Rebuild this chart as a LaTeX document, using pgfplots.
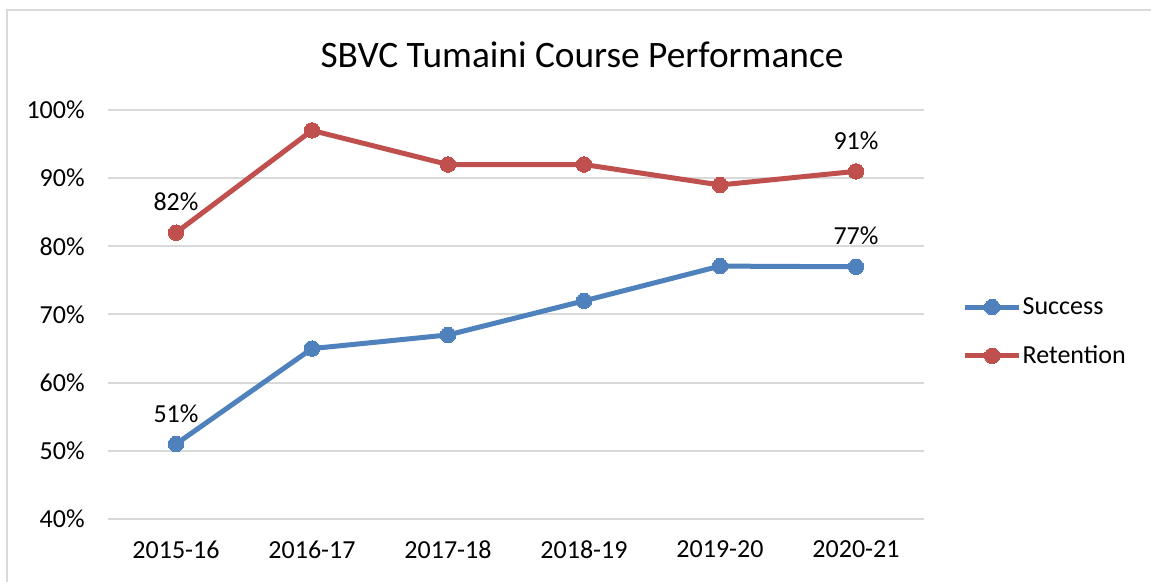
\documentclass[border=0pt]{standalone}
\usepackage{pgfplots}
\pgfplotsset{compat=1.18}
\usepackage{fontspec}
\setmainfont{Carlito}
\definecolor{sblue}{HTML}{4F81BD}
\definecolor{sred}{HTML}{C0504D}
\definecolor{gridc}{HTML}{D9D9D9}
\begin{document}
\begin{tikzpicture}[x=0.75pt,y=0.75pt]
\useasboundingbox (0,0) rectangle (1151,581);
\draw[gridc,line width=1.5pt] (7,-5) -- (7,571) -- (1160,571);
\node[font=\fontsize{28}{32}\selectfont] at (582,526) {SBVC Tumaini Course Performance};
\begin{axis}[
  at={(81pt,46.5pt)}, anchor=south west,
  width=612pt, height=306.75pt, scale only axis,
  xmin=-0.5, xmax=5.5, ymin=40, ymax=100,
  xtick={0,1,2,3,4,5},
  xticklabels={2015-16,2016-17,2017-18,2018-19,2019-20,2020-21},
  ytick={40,50,60,70,80,90,100},
  yticklabel={\pgfmathprintnumber{\tick}\%},
  /pgf/number format/assume math mode=true,
  ticklabel style={font=\fontsize{19.5}{23}\selectfont},
  yticklabel style={xshift=-14pt},
  xticklabel style={yshift=-13pt},
  axis line style={draw=none},
  major tick length=0pt,
  ymajorgrids, grid style={gridc,line width=1.5pt},
  legend style={at={(1,0.458)}, anchor=west, xshift=29pt, draw=none, fill=none,
    font=\fontsize{19.5}{23}\selectfont, row sep=20pt, inner sep=0pt,
    nodes={inner sep=1pt}},
  legend cell align=left,
  legend image code/.code={\draw[#1,mark repeat=2,mark phase=2] plot coordinates {(0pt,0pt)(20pt,0pt)(40pt,0pt)};},
  clip=false,
]
\addplot[sblue, line width=3.75pt, mark=*, mark size=5.8pt, mark options={fill=sblue,draw=sblue,line width=0pt}]
  coordinates {(0,51) (1,65) (2,67) (3,72) (4,77.1) (5,77)};
\addlegendentry{Success}
\addplot[sred, line width=3.75pt, mark=*, mark size=5.8pt, mark options={fill=sred,draw=sred,line width=0pt}]
  coordinates {(0,82) (1,97) (2,92) (3,92) (4,89) (5,91)};
\addlegendentry{Retention}
\addplot[draw=none, mark=none, forget plot, nodes near coords, point meta=explicit symbolic,
  every node near coord/.append style={font=\fontsize{19.5}{23}\selectfont, black, anchor=center, yshift=23pt}]
  coordinates {(0,51)[51\%] (5,77)[77\%] (0,82)[82\%] (5,91)[91\%]};
\end{axis}
\end{tikzpicture}
\end{document}
